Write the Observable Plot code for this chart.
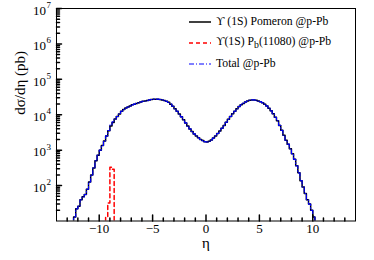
<!DOCTYPE html>
<html><head><meta charset="utf-8">
<script src="https://cdn.jsdelivr.net/npm/d3@7"></script>
<script src="https://cdn.jsdelivr.net/npm/@observablehq/plot@0.6"></script>
<style>
body{margin:0;background:#fff;font-family:'Liberation Serif';}
#wrap{position:relative;width:374px;height:260px;font-family:'Liberation Serif';color:#000;}
.row{position:absolute;display:flex;align-items:center;height:14px;font-size:11.7px;white-space:nowrap;font-family:'Liberation Serif';}
.row svg{flex:none;}
.row span{margin-left:5px;}
</style></head><body><div id="wrap"></div>
<script>
// histogram bins (lower edge of first bin, bin width)
const binStart = -12.4, binWidth = 0.2;
// Υ(1S) Pomeron @p-Pb, dσ/dη (pb), bins from -12.4 to 10.2
const pomeron = [13,22,26,40,48,56,79,126,200,316,500,724,1000,
1349,1820,2512,3548,4786,6026,7586,8913,10470,12590,
14130,15490,16600,17780,19050,19950,20890,21880,22910,23990,
24550,25120,26300,26920,27540,27540,27540,26920,26300,25120,
23990,22390,19950,17380,14790,12590,10470,8710,7244,5888,
4786,3981,3388,2884,2512,2239,1995,1862,1738,1698,
1778,1950,2188,2512,2951,3467,4169,5012,6166,7413,
8913,10720,12590,14790,16980,19050,20890,22910,24550,25700,
26300,26300,25700,24550,23440,21880,19950,17780,15140,12880,
10720,8511,6761,5012,3631,2630,1905,1479,1096,794,
550,363,229,138,91,60,40,30,20,13];
// Total @p-Pb
const total = [13,22,26,40,48,56,79,126,200,316,500,724,1000,
1349,1820,2525,3580,5116,6316,7586,8913,10470,12590,
14130,15490,16600,17780,19050,19950,20890,21880,22910,23990,
24550,25120,26300,26920,27540,27540,27540,26920,26300,25120,
23990,22390,19950,17380,14790,12590,10470,8710,7244,5888,
4786,3981,3388,2884,2512,2239,1995,1862,1738,1698,
1778,1950,2188,2512,2951,3467,4169,5012,6166,7413,
8913,10720,12590,14790,16980,19050,20890,22910,24550,25700,
26300,26300,25700,24550,23440,21880,19950,17780,15140,12880,
10720,8511,6761,5012,3631,2630,1905,1479,1096,794,
550,363,229,138,91,60,40,30,20,13];
// Υ(1S) P_b(11080) @p-Pb
const pbStart = -9.4;
const pbValues = [13,32,330,290];

const xMajor = [-10,-5,0,5,10];
const xTickLabels = ["\u221210","\u22125","0","5","10"];
const xMinor = [-13,-12,-11,-9,-8,-7,-6,-4,-3,-2,-1,1,2,3,4,6,7,8,9,11,12,13];
const yExponents = [2,3,4,5,6,7];
const yMinorMult = [2,3,4,5,6,7,8,9];
const yMinorExp = [1,2,3,4,5,6];
const xTitle = "\u03b7";
const yTitle = "d\u03c3/d\u03b7 (pb)";
const legendLabels = ["\u03d2 (1S) Pomeron @p-Pb", "\u03d2(1S) P<sub>b</sub>(11080) @p-Pb", "Total @p-Pb"];

const floorValue = 1; // below the axis minimum, clipped
function steps(start, width, vals) {
  const rows = [{x: start, y: floorValue}];
  vals.forEach((v, i) => rows.push({x: start + i * width, y: v}));
  const end = start + vals.length * width;
  rows.push({x: end, y: vals[vals.length - 1]});
  rows.push({x: end, y: floorValue});
  return rows;
}
const yMinor = [];
yMinorExp.forEach(e => yMinorMult.forEach(m => yMinor.push(m * 10 ** e)));

const tick = {draw(ctx, l) { ctx.moveTo(0, 0); ctx.lineTo(0, -l); }};
const serif = "Liberation Serif";

const chart = Plot.plot({
  width: 374, height: 260,
  marginLeft: 56, marginRight: 19, marginTop: 8, marginBottom: 39.5,
  style: {fontFamily: serif, background: "#fff"},
  x: {domain: [-14, 14], axis: null},
  y: {type: "log", domain: [10, 1e7], axis: null},
  marks: [
    Plot.line(steps(pbStart, binWidth, pbValues), {x: "x", y: "y", curve: "step-after", stroke: "#ff0000", strokeWidth: 1.5, strokeDasharray: "4,3", clip: true}),
    Plot.line(steps(binStart, binWidth, pomeron), {x: "x", y: "y", curve: "step-after", stroke: "#000", strokeWidth: 1.5, clip: true}),
    Plot.line(steps(binStart, binWidth, total), {x: "x", y: "y", curve: "step-after", stroke: "#0000ff", strokeWidth: 1.1, strokeDasharray: "5,2,1,2", clip: true}),
    Plot.frame({stroke: "#000", strokeWidth: 1}),
    Plot.vector(xMajor, {x: d => d, frameAnchor: "bottom", length: 6, rotate: 0, anchor: "start", shape: tick, stroke: "#000"}),
    Plot.vector(xMinor, {x: d => d, frameAnchor: "bottom", length: 3, rotate: 0, anchor: "start", shape: tick, stroke: "#000"}),
    Plot.vector(yExponents, {y: d => 10 ** d, frameAnchor: "left", length: 5, rotate: 90, anchor: "start", shape: tick, stroke: "#000"}),
    Plot.vector(yMinor, {y: d => d, frameAnchor: "left", length: 3, rotate: 90, anchor: "start", shape: tick, stroke: "#000"}),
    Plot.text(xMajor, {x: d => d, text: (d, i) => xTickLabels[i], frameAnchor: "bottom", dy: 11.5, fontSize: 13, fontFamily: serif, fill: "#000"}),
    Plot.text(yExponents, {y: d => 10 ** d, text: () => "10", frameAnchor: "left", textAnchor: "end", dx: -10.5, dy: 2, fontSize: 13, fontFamily: serif, fill: "#000"}),
    Plot.text(yExponents, {y: d => 10 ** d, text: d => String(d), frameAnchor: "left", textAnchor: "start", dx: -10, dy: -3.5, fontSize: 9, fontFamily: serif, fill: "#000"}),
    Plot.text([xTitle], {text: d => d, frameAnchor: "bottom", dy: 27, fontSize: 15, fontFamily: serif, fill: "#000"}),
    Plot.text([yTitle], {text: d => d, frameAnchor: "left", dx: -36, rotate: -90, fontSize: 15, fontFamily: serif, fill: "#000"})
  ]
});
const wrap = document.getElementById("wrap");
wrap.appendChild(chart);

const legendStyles = [
  {stroke: "#000", width: 1.5, dash: ""},
  {stroke: "#ff0000", width: 1.5, dash: "4,3"},
  {stroke: "#0000ff", width: 1.1, dash: "5,2,1,2"}
];
const rowCenters = [21.5, 42.5, 63.5];
legendLabels.forEach((lab, i) => {
  const r = document.createElement("div");
  r.className = "row";
  r.style.left = "189px";
  r.style.top = (rowCenters[i] - 7) + "px";
  const s = legendStyles[i];
  r.innerHTML = `<svg width="22" height="14"><line x1="0" y1="7" x2="22" y2="7" stroke="${s.stroke}" stroke-width="${s.width}" stroke-dasharray="${s.dash}"/></svg><span style="font-family:'Liberation Serif'">${lab}</span>`;
  wrap.appendChild(r);
});
</script></body></html>
